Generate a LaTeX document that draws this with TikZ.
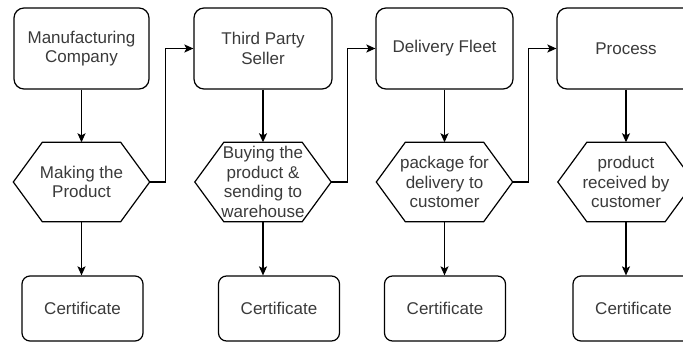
\documentclass[tikz,border=0pt]{standalone}
\usepackage{fontspec}
\setmainfont{Liberation Sans}
\usetikzlibrary{arrows.meta}
\definecolor{txt}{HTML}{3A3A3A}
\tikzset{
  x=1pt, y=-1pt,
  line/.style={draw=black, line width=1.2pt},
  arr/.style={line, -{Stealth[length=9pt, width=8pt, inset=2pt]}},
  lbl/.style={font=\fontsize{17}{19.5}\selectfont, text=txt, align=center},
  topbox/.style={lbl, line, rounded corners=10pt, minimum height=81pt, inner sep=0pt},
  hexa/.style={lbl, minimum width=136pt, minimum height=79pt, inner sep=0pt},
  certbox/.style={lbl, line, rounded corners=8pt, minimum width=121pt, minimum height=65pt, inner sep=0pt},
}
\begin{document}
\begin{tikzpicture}
\useasboundingbox (0,0) rectangle (683,342);
\clip (0,0) rectangle (683,342);

% actors
\node[topbox, minimum width=135pt] (b1) at (81.5,48.5) {Manufacturing\\Company};
\node[topbox, minimum width=138pt] (b2) at (263,48.5) {Third Party\\Seller};
\node[topbox, minimum width=137pt] (b3) at (444.5,48.5) {Delivery Fleet};
\node[topbox, minimum width=138pt] (b4) at (626,48.5) {Process};

% steps
\node[hexa] (h1) at (81.5,182) {Making the\\Product};
\node[hexa] (h2) at (263,182) {Buying the\\product \&\\sending to\\warehouse};
\node[hexa] (h3) at (444.5,182) {package for\\delivery to\\customer};
\node[hexa] (h4) at (626,182) {product\\received by\\customer};
\foreach \h in {h1,h2,h3,h4}
  \draw[line] (\h.west) -- ([xshift=29pt]\h.north west) -- ([xshift=-29pt]\h.north east)
    -- (\h.east) -- ([xshift=-29pt]\h.south east) -- ([xshift=29pt]\h.south west) -- cycle;

% certificates
\node[certbox] (c1) at (82.5,308.5) {Certificate};
\node[certbox] (c2) at (279,308.5) {Certificate};
\node[certbox] (c3) at (445,308.5) {Certificate};
\node[certbox] (c4) at (633.5,308.5) {Certificate};

% actor to step
\foreach \i in {1,2,3,4}
  \draw[arr] (b\i.south) -- (h\i.north);

% step to certificate
\foreach \i in {1,2,3,4}
  \draw[arr] (h\i.south) -- (h\i.south |- c\i.north);

% hand-over to the next actor
\draw[arr] (h1.east) -- ++(16,0) |- (b2.west);
\draw[arr] (h2.east) -- ++(16,0) |- (b3.west);
\draw[arr] (h3.east) -- ++(16,0) |- (b4.west);
\end{tikzpicture}
\end{document}
